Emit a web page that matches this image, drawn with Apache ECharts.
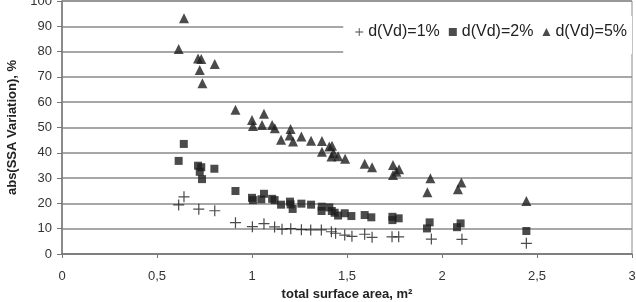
<!DOCTYPE html>
<html>
<head>
<meta charset="utf-8">
<script src="https://cdn.jsdelivr.net/npm/echarts@6/dist/echarts.min.js"></script>
<style>
  html, body { margin: 0; padding: 0; background: #fff; }
  #main { width: 636px; height: 302px; }
</style>
</head>
<body>
<div id="main"></div>
<script>
// d(Vd)=1%  (plus markers)
var dv1 = [
  [0.614, 19.4], [0.642, 22.6], [0.72, 17.7], [0.804, 17.1], [0.913, 12.4],
  [1.002, 10.8], [1.063, 12.0], [1.119, 10.7], [1.158, 9.8], [1.204, 10.0],
  [1.26, 9.6], [1.309, 9.5], [1.365, 9.5], [1.418, 8.8], [1.44, 8.2],
  [1.488, 7.5], [1.526, 7.0], [1.593, 7.8], [1.632, 6.6], [1.737, 6.8],
  [1.772, 6.8], [1.944, 5.9], [2.105, 5.8], [2.444, 4.2]
]
// d(Vd)=2%  (squares)
var dv2 = [
  [0.641, 43.5], [0.614, 36.8], [0.716, 34.9], [0.733, 34.3], [0.725, 32.5],
  [0.737, 29.6], [0.802, 33.7], [0.913, 24.9], [1.0, 22.2], [1.005, 21.3],
  [1.049, 21.6], [1.063, 23.8], [1.106, 21.8], [1.119, 21.3], [1.153, 19.5],
  [1.2, 20.7], [1.203, 19.6], [1.214, 17.8], [1.26, 19.9], [1.311, 19.5],
  [1.367, 18.7], [1.366, 17.0], [1.407, 18.4], [1.42, 17.0], [1.435, 16.3],
  [1.453, 15.2], [1.488, 16.1], [1.523, 15.0], [1.593, 15.4], [1.628, 14.5],
  [1.739, 14.7], [1.739, 13.4], [1.772, 14.1], [1.935, 12.5], [1.921, 10.1],
  [2.098, 12.1], [2.079, 10.6], [2.444, 9.1]
]
// d(Vd)=5%  (triangles)
var dv5 = [
  [0.642, 93.2], [0.614, 81.0], [0.716, 77.3], [0.733, 77.1], [0.804, 75.1],
  [0.725, 72.7], [0.739, 67.5], [0.913, 57.0], [1.0, 53.0], [1.005, 50.6],
  [1.053, 51.0], [1.063, 55.4], [1.106, 51.0], [1.12, 49.7], [1.153, 45.2],
  [1.203, 49.4], [1.198, 46.8], [1.216, 44.5], [1.26, 46.4], [1.311, 44.8],
  [1.368, 44.7], [1.368, 40.4], [1.407, 42.5], [1.421, 42.8], [1.43, 39.8],
  [1.418, 38.5], [1.453, 38.6], [1.49, 37.6], [1.593, 35.7], [1.632, 34.3],
  [1.742, 35.2], [1.742, 31.2], [1.76, 32.5], [1.774, 33.5], [1.939, 29.9],
  [1.923, 24.4], [2.102, 28.3], [2.084, 25.6], [2.444, 20.9]
]
var seriesNames = ['d(Vd)=1%', 'd(Vd)=2%', 'd(Vd)=5%']

var plusPath = 'path://M0,4.45H4.45V0H5.55V4.45H10V5.55H5.55V10H4.45V5.55H0Z'
var ink = '#1e1e1e'

var myChart = echarts.init(document.getElementById('main'))
var option = {
    animation: false,
    backgroundColor: '#fff',
    textStyle: { fontFamily: 'Liberation Sans, Arial, sans-serif' },
    grid: {
        left: 62, right: 4, top: 1, bottom: 48,
        outerBoundsMode: 'none',
        containLabel: false,
        show: true, borderColor: '#8a8a8a', borderWidth: 1
    },
    legend: {
        right: 4, top: 16,
        backgroundColor: '#fff',
        padding: [8, 5, 14, 12],
        itemGap: 9,
        itemWidth: 8, itemHeight: 8,
        textStyle: { fontSize: 16, color: '#222' },
        data: [
            { name: seriesNames[0], icon: plusPath },
            { name: seriesNames[1], icon: 'rect', itemStyle: { color: ink } },
            { name: seriesNames[2], icon: 'triangle', itemStyle: { color: ink } }
        ]
    },
    xAxis: {
        type: 'value',
        min: 0, max: 3, interval: 0.5,
        name: 'total surface area, m²',
        nameLocation: 'middle',
        nameGap: 30,
        nameTextStyle: { fontSize: 13, fontWeight: 'bold', color: '#222' },
        axisLine: { lineStyle: { color: '#777', width: 1.5 } },
        axisTick: { show: true, length: 4, lineStyle: { color: '#777' } },
        axisLabel: {
            fontSize: 13, color: '#333', margin: 16,
            formatter: function (v) { return String(v).replace('.', ',') }
        },
        splitLine: { show: false }
    },
    yAxis: {
        type: 'value',
        min: 0, max: 100, interval: 10,
        name: 'abs(SSA Variation), %',
        nameLocation: 'middle',
        nameGap: 40,
        nameTextStyle: { fontSize: 13, fontWeight: 'bold', color: '#222' },
        axisLine: { show: true, lineStyle: { color: '#777', width: 1.5 } },
        axisTick: { show: true, length: 5, lineStyle: { color: '#777' } },
        axisLabel: { fontSize: 13, color: '#333', margin: 10 },
        splitLine: { show: true, lineStyle: { color: '#8a8a8a', width: 1.5 } }
    },
    series: [
        {
            name: seriesNames[0], type: 'scatter', data: dv1,
            symbol: plusPath, symbolSize: 11,
            itemStyle: { color: ink }, z: 3
        },
        {
            name: seriesNames[1], type: 'scatter', data: dv2,
            symbol: 'rect', symbolSize: 8,
            itemStyle: { color: ink }, z: 3
        },
        {
            name: seriesNames[2], type: 'scatter', data: dv5,
            symbol: 'triangle', symbolSize: 10,
            itemStyle: { color: ink }, z: 3
        }
    ]
}
myChart.setOption(option)
</script>
</body>
</html>
